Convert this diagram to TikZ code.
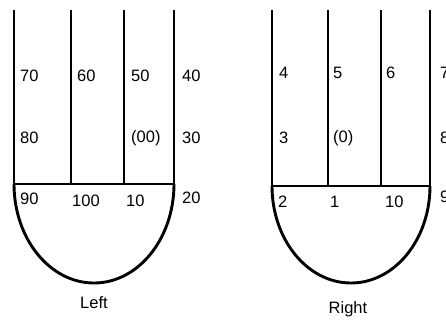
\documentclass[tikz,border=0pt]{standalone}
\usepackage{fontspec}
\setmainfont{Liberation Sans}
\begin{document}
\begin{tikzpicture}[x=1pt,y=-1pt,
  wall/.style={line width=2.9pt},
  num/.style={anchor=west,inner sep=0pt,font=\fontsize{16.5}{16.5}\selectfont}]
\useasboundingbox (0,0) rectangle (446,322);
% left pocket
\foreach \x in {14,71,124,174} \draw[wall] (\x,10)--(\x,184);
\draw[wall] (14,184)--(174,184);
\draw[wall] (14,184) arc[start angle=180,end angle=0,x radius=80,y radius=99];
\node[num] (l70) at (20,76) {70}; \node[num] (l60) at (77,76) {60};
\node[num] (l50) at (131,76) {50}; \node[num] (l40) at (182,76) {40};
\node[num] (l80) at (20,138) {80}; \node[num] (l00) at (131,138) {(00)};
\node[num] (l30) at (182,138) {30};
\node[num] (l90) at (20,199) {90}; \node[num] (l100) at (72,201) {100};
\node[num] (l10) at (126,201) {10}; \node[num] (l20) at (182,198) {20};
\node[num,anchor=center] (left) at (94,303) {Left};
% right pocket
\foreach \x in {272,328,381,430} \draw[wall] (\x,10)--(\x,186);
\draw[wall] (272,186)--(430,186);
\draw[wall] (272,186) arc[start angle=180,end angle=0,x radius=79,y radius=97];
\node[num] (r4) at (279,73) {4}; \node[num] (r5) at (333,73) {5};
\node[num] (r6) at (386,73) {6}; \node[num] (r7) at (440,73) {7};
\node[num] (r3) at (279,138) {3}; \node[num] (r0) at (333,138) {(0)};
\node[num] (r8) at (440,138) {8};
\node[num] (r2) at (278,202) {2}; \node[num] (r1) at (330,202) {1};
\node[num] (r10) at (385,202) {10}; \node[num] (r9) at (440,197) {9};
\node[num,anchor=center] (right) at (348,309) {Right};
\end{tikzpicture}
\end{document}
